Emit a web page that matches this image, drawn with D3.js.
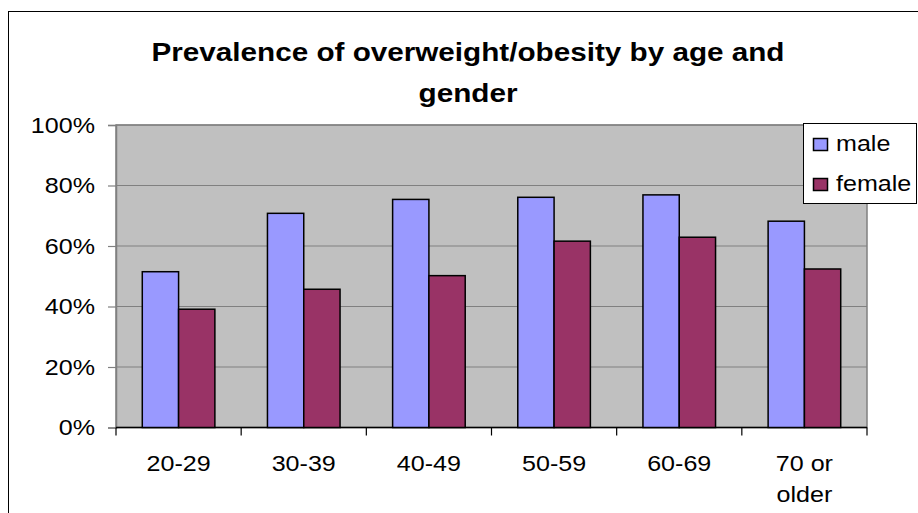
<!DOCTYPE html>
<html><head><meta charset="utf-8">
<script src="https://cdn.jsdelivr.net/npm/d3@7"></script>
<style>body{margin:0;background:#fff;font-family:"Liberation Sans",Arial,sans-serif}</style>
</head><body>
<svg id="c" width="918" height="513"></svg>
<script>
const categories = ["20-29","30-39","40-49","50-59","60-69","70 or older"];
const categoryLines = [["20-29"],["30-39"],["40-49"],["50-59"],["60-69"],["70 or","older"]];
const seriesNames = ["male","female"];
const maleValues = [51.5, 70.8, 75.4, 76.1, 76.9, 68.2];
const femaleValues = [39.1, 45.7, 50.2, 61.6, 62.9, 52.4];
const yTicks = [0,20,40,60,80,100];
const colors = ["#9999FF","#993366"];
const titleLines = ["Prevalence of overweight/obesity by age and","gender"];

const STRETCH = 1.14;
function stretch(el, factor){
  const n = el.node();
  const w = n.getComputedTextLength();
  el.attr("textLength", w*factor).attr("lengthAdjust","spacingAndGlyphs");
}

const svg = d3.select("#c");
svg.append("rect").attr("x",8.5).attr("y",11.5).attr("width",1000).attr("height",1000)
  .attr("fill","#fff").attr("stroke","#000").attr("stroke-width",1);

const L=116, R=867, T=125, B=427.5;
const x = d3.scaleBand().domain(categories).range([L,R]).paddingInner(0.42).paddingOuter(0.21);
const xs = d3.scaleBand().domain(seriesNames).range([0,x.bandwidth()]);
const y = d3.scaleLinear().domain([0,100]).range([B,T]);

svg.append("rect").attr("x",L).attr("y",T).attr("width",R-L).attr("height",B-T)
  .attr("fill","#C0C0C0").attr("stroke","#808080").attr("stroke-width",1.5);

svg.append("g").selectAll("line").data(yTicks.filter(d=>d>0)).join("line")
  .attr("x1",L).attr("x2",R).attr("y1",d=>y(d)).attr("y2",d=>y(d))
  .attr("stroke","#808080").attr("stroke-width",1.2);

const yAxis = svg.append("g").attr("transform",`translate(${L},0)`)
  .call(d3.axisLeft(y).tickValues(yTicks).tickFormat(d=>d+"%").tickSize(8).tickPadding(13));
yAxis.select(".domain").attr("stroke","#808080").attr("stroke-width",1.5);
yAxis.selectAll(".tick line").attr("stroke","#808080").attr("stroke-width",1.2);
yAxis.selectAll("text").attr("font-size",22).attr("fill","#000").attr("dy","0.32em")
  .attr("font-family","Liberation Sans, Arial, sans-serif")
  .each(function(){ stretch(d3.select(this), STRETCH); });

const bounds = d3.range(categories.length+1).map(i=>L+i*(R-L)/categories.length);
svg.append("line").attr("x1",L).attr("x2",R).attr("y1",B).attr("y2",B).attr("stroke","#000").attr("stroke-width",1.5);
svg.append("g").selectAll("line").data(bounds).join("line")
  .attr("x1",d=>d).attr("x2",d=>d).attr("y1",B).attr("y2",B+8).attr("stroke","#000").attr("stroke-width",1.2);

const data = [maleValues, femaleValues];
const g = svg.append("g");
categories.forEach((c,i)=>{
  seriesNames.forEach((s,j)=>{
    g.append("rect").attr("x",x(c)+xs(s)).attr("y",y(data[j][i]))
      .attr("width",xs.bandwidth()).attr("height",B-y(data[j][i]))
      .attr("fill",colors[j]).attr("stroke","#000").attr("stroke-width",1.5);
  });
});

const xl = svg.append("g");
categories.forEach((c,i)=>{
  categoryLines[i].forEach((ln,k)=>{
    const t = xl.append("text").attr("x",x(c)+x.bandwidth()/2).attr("y",471+k*31)
      .attr("text-anchor","middle").attr("font-size",22).attr("fill","#000").text(ln);
    stretch(t, STRETCH);
  });
});

const titleWidths = [633, 99];
titleLines.forEach((ln,k)=>{
  svg.append("text").attr("text-anchor","middle").attr("font-size",25).attr("font-weight","bold")
    .attr("fill","#000").attr("x",468).attr("y",61+k*41).text(ln)
    .attr("textLength",titleWidths[k]).attr("lengthAdjust","spacingAndGlyphs");
});

const lg = svg.append("g");
lg.append("rect").attr("x",803.5).attr("y",123.5).attr("width",113).attr("height",80)
  .attr("fill","#fff").attr("stroke","#000").attr("stroke-width",1);
seriesNames.forEach((s,j)=>{
  const base = 151 + j*40;
  lg.append("rect").attr("x",813.5).attr("y",base-12.5).attr("width",14).attr("height",12)
    .attr("fill",colors[j]).attr("stroke","#000").attr("stroke-width",1.5);
  const t = lg.append("text").attr("x",836).attr("y",base).attr("font-size",22).attr("fill","#000").text(s);
  stretch(t, STRETCH);
});
</script>
</body></html>
